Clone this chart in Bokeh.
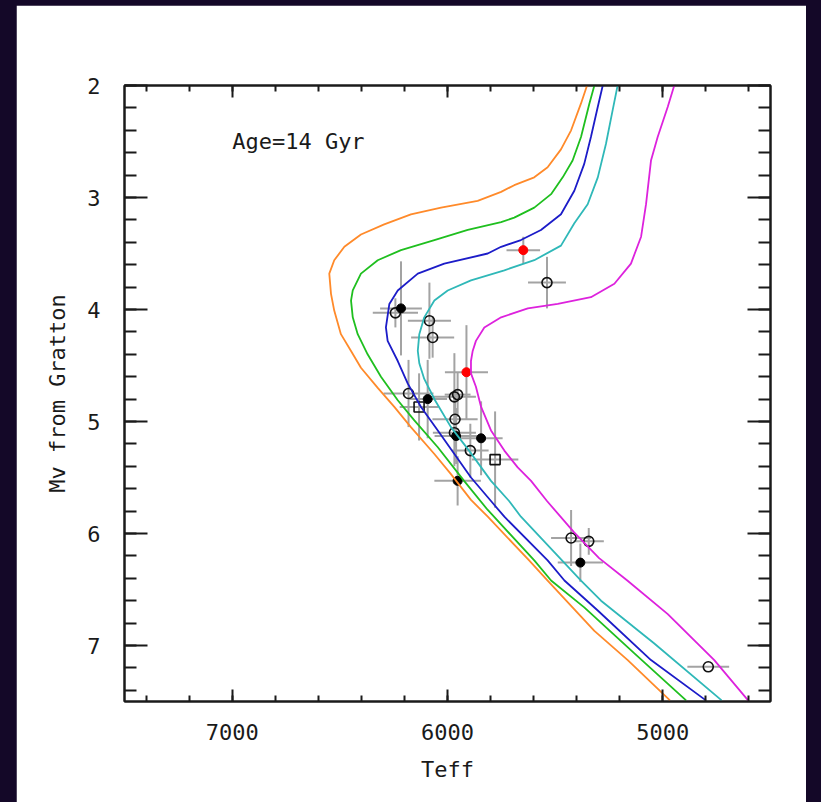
from bokeh.plotting import figure
from bokeh.models import (Range1d, LinearAxis, SingleIntervalTicker, Label,
                          ColumnDataSource, Column)
from bokeh.embed import file_html
from bokeh.resources import INLINE

# ---- isochrones (Teff, Mv), 14 Gyr, five metallicities ----
iso_orange_teff = [5352, 5380, 5426, 5473, 5535, 5597, 5690, 5751, 5860, 6030, 6170, 6294,
                   6402, 6479, 6526, 6549, 6541, 6526, 6495, 6448, 6402, 6324, 6247, 6170,
                   6061, 5984, 5891, 5813, 5621, 5535, 5318, 5163, 4967]
iso_orange_mv = [2.00, 2.16, 2.40, 2.57, 2.73, 2.82, 2.89, 2.95, 3.03, 3.09, 3.15, 3.24,
                 3.33, 3.44, 3.56, 3.68, 3.86, 4.01, 4.22, 4.37, 4.52, 4.70, 4.87, 5.05,
                 5.29, 5.47, 5.70, 5.85, 6.24, 6.42, 6.87, 7.13, 7.49]

iso_green_teff = [5318, 5341, 5380, 5419, 5465, 5519, 5597, 5690, 5751, 5906, 6061, 6216,
                  6324, 6402, 6440, 6448, 6440, 6417, 6371, 6309, 6231, 6154, 6045, 5923,
                  5813, 5597, 5519, 5365, 5132, 4892]
iso_green_mv = [2.00, 2.16, 2.46, 2.67, 2.82, 2.97, 3.09, 3.18, 3.22, 3.29, 3.38, 3.47,
                3.56, 3.68, 3.83, 3.92, 4.07, 4.22, 4.40, 4.60, 4.81, 4.99, 5.23, 5.53,
                5.79, 6.24, 6.42, 6.66, 7.07, 7.49]

iso_blue_teff = [5279, 5302, 5334, 5365, 5411, 5473, 5566, 5659, 5751, 5813, 6015, 6138,
                 6231, 6270, 6286, 6278, 6231, 6185, 6123, 6045, 5968, 5891, 5798, 5736,
                 5535, 5457, 5301, 5055, 4800]
iso_blue_mv = [2.00, 2.19, 2.46, 2.70, 2.94, 3.15, 3.29, 3.38, 3.44, 3.50, 3.59, 3.68,
               3.83, 3.95, 4.16, 4.28, 4.46, 4.66, 4.87, 5.08, 5.29, 5.50, 5.71, 5.85,
               6.24, 6.42, 6.69, 7.13, 7.49]

iso_cyan_teff = [5210, 5233, 5264, 5302, 5349, 5411, 5473, 5597, 5736, 5891, 5999, 6061,
                 6108, 6131, 6138, 6131, 6108, 6058, 5984, 5900, 5798, 5714, 5659, 5380,
                 5287, 5041, 4727]
iso_cyan_mv = [2.00, 2.22, 2.52, 2.82, 3.06, 3.23, 3.43, 3.56, 3.65, 3.74, 3.83, 3.92,
               4.07, 4.22, 4.37, 4.48, 4.62, 4.81, 5.05, 5.26, 5.53, 5.71, 5.85, 6.42,
               6.60, 6.98, 7.49]

iso_magenta_teff = [4947, 4977, 5024, 5055, 5078, 5101, 5148, 5225, 5334, 5488, 5627, 5751,
                    5829, 5868, 5883, 5891, 5891, 5868, 5844, 5798, 5736, 5674, 5612, 5538,
                    5412, 5296, 5165, 4977, 4761, 4604]
iso_magenta_mv = [2.00, 2.19, 2.46, 2.67, 3.06, 3.35, 3.59, 3.77, 3.89, 3.95, 3.99, 4.07,
                  4.16, 4.28, 4.37, 4.46, 4.57, 4.69, 4.87, 5.08, 5.26, 5.41, 5.53, 5.71,
                  5.99, 6.22, 6.42, 6.72, 7.13, 7.49]

# ---- observed stars ----
star_kind = ["red", "open", "filled", "open", "open", "open", "red", "open", "filled",
             "square", "open", "open", "open", "open", "filled", "filled", "open", "square",
             "filled", "open", "open", "filled", "open"]
star_teff = [5648, 5538, 6216, 6242, 6084, 6069, 5912, 6181, 6092,
             6132, 5968, 5953, 5965, 5968, 5960, 5844, 5894, 5779,
             5953, 5426, 5344, 5383, 4789]
star_mv = [3.47, 3.76, 3.99, 4.03, 4.10, 4.25, 4.56, 4.75, 4.80,
           4.87, 4.78, 4.76, 4.98, 5.10, 5.13, 5.15, 5.26, 5.34,
           5.53, 6.04, 6.07, 6.26, 7.19]
star_teff_err = [78, 88, 97, 105, 100, 100, 100, 116, 90,
                 90, 100, 60, 105, 100, 100, 100, 85, 108,
                 108, 93, 70, 105, 97]
star_mv_err = [0.12, 0.23, 0.42, 0.13, 0.34, 0.18, 0.42, 0.30, 0.35,
               0.30, 0.39, 0.20, 0.25, 0.30, 0.25, 0.33, 0.24, 0.43,
               0.22, 0.25, 0.12, 0.17, 0.0]

INK = "#1a1a1a"
FONT = "DejaVu Sans Mono"

p = figure(width=790, height=797, output_backend="svg", toolbar_location=None,
           x_range=Range1d(7500, 4500), y_range=Range1d(7.5, 2),
           min_border_left=108, min_border_right=36, min_border_top=80,
           min_border_bottom=101, x_axis_location=None, y_axis_location=None,
           background_fill_color="white", border_fill_color="white")
p.margin = (5, 15, 0, 16)
p.xgrid.visible = False
p.ygrid.visible = False
p.outline_line_color = INK
p.outline_line_width = 2


def make_axis(kind, labels):
    if kind == "x":
        ax = LinearAxis(ticker=SingleIntervalTicker(interval=1000, num_minor_ticks=5))
        ax.major_tick_in, ax.minor_tick_in = 12, 6
    else:
        ax = LinearAxis(ticker=SingleIntervalTicker(interval=1, num_minor_ticks=5))
        ax.major_tick_in, ax.minor_tick_in = 23, 12
    ax.major_tick_out = 0
    ax.minor_tick_out = 0
    ax.axis_line_color = INK
    ax.axis_line_width = 2
    ax.major_tick_line_color = INK
    ax.minor_tick_line_color = INK
    ax.major_tick_line_width = 2
    ax.minor_tick_line_width = 2
    if labels:
        ax.major_label_text_font = FONT
        ax.major_label_text_font_size = "22px"
        ax.major_label_text_color = INK
        ax.axis_label_text_font = FONT
        ax.axis_label_text_font_size = "22px"
        ax.axis_label_text_font_style = "normal"
        ax.axis_label_text_color = INK
    else:
        # mirrored frame ticks only: numbers are not drawn on this side
        ax.major_label_text_color = None
        ax.major_label_text_alpha = 0
        ax.major_label_standoff = 0
    return ax


xb = make_axis("x", True)
xb.axis_label = "Teff"
xb.major_label_standoff = 22
xb.axis_label_standoff = 14
p.add_layout(xb, "below")
p.add_layout(make_axis("x", False), "above")

yl = make_axis("y", True)
yl.axis_label = "Mv from Gratton"
yl.major_label_standoff = 24
yl.axis_label_standoff = 14
yl.major_label_orientation = "horizontal"
p.add_layout(yl, "left")
p.add_layout(make_axis("y", False), "right")

# error bars
stars = ColumnDataSource(dict(
    teff=star_teff, mv=star_mv, kind=star_kind,
    x0=[t - e for t, e in zip(star_teff, star_teff_err)],
    x1=[t + e for t, e in zip(star_teff, star_teff_err)],
    y0=[m - e for m, e in zip(star_mv, star_mv_err)],
    y1=[m + e for m, e in zip(star_mv, star_mv_err)],
))
p.segment(x0="x0", x1="x1", y0="mv", y1="mv", source=stars, line_color="#a3a3a3", line_width=2)
p.segment(x0="teff", x1="teff", y0="y0", y1="y1", source=stars, line_color="#a3a3a3", line_width=2)


def subset(kind):
    idx = [i for i, k in enumerate(star_kind) if k == kind]
    return [star_teff[i] for i in idx], [star_mv[i] for i in idx]


tx, my = subset("open")
p.scatter(tx, my, marker="circle", size=10, fill_color=None, line_color="#111111", line_width=1.6)
tx, my = subset("square")
p.scatter(tx, my, marker="square", size=10, fill_color=None, line_color="#111111", line_width=1.6)
tx, my = subset("filled")
p.scatter(tx, my, marker="circle", size=9, fill_color="#000000", line_color="#000000")
tx, my = subset("red")
p.scatter(tx, my, marker="circle", size=9, fill_color="#ff0000", line_color="#ff0000")

# isochrones
for xs, ys, col in [
    (iso_orange_teff, iso_orange_mv, "#ff8a2a"),
    (iso_green_teff, iso_green_mv, "#1fbf1f"),
    (iso_blue_teff, iso_blue_mv, "#1c1cc8"),
    (iso_cyan_teff, iso_cyan_mv, "#2fb8b8"),
    (iso_magenta_teff, iso_magenta_mv, "#dd22dd"),
]:
    p.line(xs, ys, line_color=col, line_width=1.8)

p.add_layout(Label(x=7000, y=2.5, text="Age=14 Gyr", text_font=FONT,
                   text_font_size="22px", text_color=INK,
                   text_align="left", text_baseline="alphabetic"))

page = Column(p, styles={"background-color": "#140828"})

open("out.html", "w").write(file_html(page, INLINE))
